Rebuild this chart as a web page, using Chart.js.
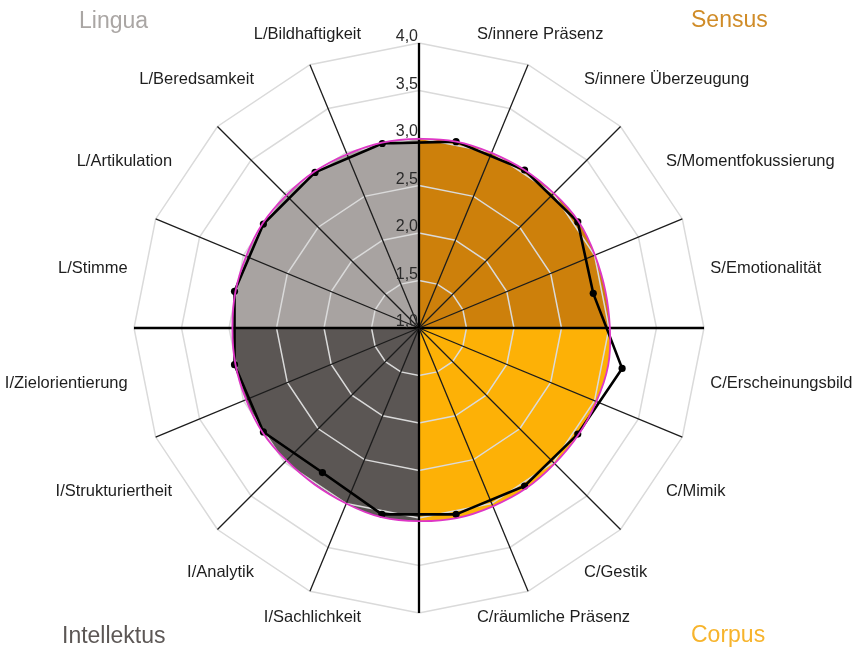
<!DOCTYPE html>
<html>
<head>
<meta charset="utf-8">
<script src="https://cdn.jsdelivr.net/npm/chart.js@4/dist/chart.umd.min.js"></script>
<style>
  html, body { margin: 0; padding: 0; background: #ffffff; }
  #wrap { position: relative; width: 855px; height: 648px; overflow: hidden;
          font-family: "Liberation Sans", Arial, Helvetica, sans-serif; }
  #wrap canvas { position: absolute; left: 0; top: 0; }
  .grp { position: absolute; font-size: 23px; line-height: 23px; white-space: nowrap; }
</style>
</head>
<body>
<div id="wrap">
  <canvas id="cFill" width="855" height="648"></canvas>
  <canvas id="cGrid" width="855" height="648"></canvas>
  <canvas id="cLines" width="855" height="648"></canvas>
  <div class="grp" id="g0" style="left:691px;top:8px;"></div>
  <div class="grp" id="g1" style="left:691px;top:623px;"></div>
  <div class="grp" id="g2" style="left:62px;top:624px;"></div>
  <div class="grp" id="g3" style="left:79px;top:9px;"></div>
</div>
<script>
// ---------- data ----------
const categories = [
  'S/innere Präsenz', 'S/innere Überzeugung', 'S/Momentfokussierung', 'S/Emotionalität',
  'C/Erscheinungsbild', 'C/Mimik', 'C/Gestik', 'C/räumliche Präsenz',
  'I/Sachlichkeit', 'I/Analytik', 'I/Strukturiertheit', 'I/Zielorientierung',
  'L/Stimme', 'L/Artikulation', 'L/Beredsamkeit', 'L/Bildhaftigkeit'
];
// black profile (line with points)
const profileValues = [3.0, 3.0, 3.01, 2.87, 3.18, 3.01, 3.0, 3.0,
                       3.0, 2.83, 2.97, 2.98, 2.98, 2.97, 2.97, 2.98];
// magenta reference profile (smooth line, filled by quadrant)
const referenceValues = [3.0, 3.0, 3.02, 3.0, 3.03, 3.02, 3.03, 3.04,
                         3.03, 2.98, 2.98, 2.97, 2.97, 2.98, 2.98, 2.99];
const groupNames  = ['Sensus', 'Corpus', 'Intellektus', 'Lingua'];
const groupFill   = ['#cd800b', '#fdb106', '#5b5654', '#a8a3a1'];
const groupTitle  = ['#d08c28', '#f7b42c', '#5c5755', '#aaa6a4'];
const scaleMin = 1.0, scaleMax = 4.0, tickStep = 0.5;

// ---------- helpers ----------
const FONT = '"Liberation Sans", Arial, Helvetica, sans-serif';
const layoutPadding = { left: 134, right: 151, top: 43, bottom: 35 };
const dataStart = 180 / categories.length;   // data on half-steps between spokes

groupNames.forEach((n, k) => {
  const el = document.getElementById('g' + k);
  el.textContent = n;
  el.style.color = groupTitle[k];
});

function radial(startAngle, gridOn) {
  return {
    r: {
      min: scaleMin, max: scaleMax, startAngle: startAngle,
      ticks: { display: false, stepSize: tickStep },
      pointLabels: { display: false },
      grid: { display: gridOn, circular: false, color: '#dadada', lineWidth: 1.5 },
      angleLines: {
        display: gridOn,
        color: (c) => (c.index % 4 === 0 ? '#000000' : '#1c1c1c'),
        lineWidth: (c) => (c.index % 4 === 0 ? 2.3 : 1.3)
      }
    }
  };
}
const baseOpts = (startAngle, gridOn) => ({
  responsive: false, animation: false,
  layout: { padding: layoutPadding },
  plugins: { legend: { display: false }, tooltip: { enabled: false } },
  scales: radial(startAngle, gridOn)
});

function quadrantFill(context) {
  const chart = context.chart;
  const s = chart.scales && chart.scales.r;
  if (!s || !isFinite(s.xCenter)) return 'rgba(0,0,0,0)';
  const g = chart.ctx.createConicGradient(-Math.PI / 2, s.xCenter, s.yCenter);
  groupFill.forEach((c, k) => { g.addColorStop(k / 4, c); g.addColorStop((k + 1) / 4, c); });
  return g;
}

const fmt = (v) => v.toFixed(1).replace('.', ',');

const tickLabelPlugin = {
  id: 'tickLabels',
  afterDraw(chart) {
    const s = chart.scales.r, ctx = chart.ctx;
    ctx.save();
    ctx.font = '16px ' + FONT;
    ctx.fillStyle = '#2a2a2a';
    ctx.textAlign = 'right';
    ctx.textBaseline = 'alphabetic';
    s.ticks.forEach((t) => {
      const d = s.getDistanceFromCenterForValue(t.value);
      ctx.fillText(fmt(t.value), s.xCenter - 1, s.yCenter - d - 2);
    });
    ctx.restore();
  }
};

const axisLabelPlugin = {
  id: 'axisLabels',
  afterDraw(chart) {
    const s = chart.scales.r, ctx = chart.ctx;
    ctx.save();
    ctx.font = '16.5px ' + FONT;
    ctx.fillStyle = '#1e1e1e';
    ctx.textBaseline = 'middle';
    chart.data.labels.forEach((lab, i) => {
      const p = s.getPointPosition(i, s.drawingArea + 12);
      const dx = p.x - s.xCenter;
      ctx.textAlign = Math.abs(dx) < 1 ? 'center' : (dx > 0 ? 'left' : 'right');
      ctx.fillText(lab, p.x, p.y - 2);
    });
    ctx.restore();
  }
};

// ---------- layer 1: quadrant-coloured fill ----------
new Chart(document.getElementById('cFill'), {
  type: 'radar',
  data: {
    labels: categories,
    datasets: [{
      data: referenceValues,
      fill: 'start',
      backgroundColor: quadrantFill,
      borderColor: 'rgba(0,0,0,0)',
      borderWidth: 0,
      tension: 0.3,
      pointRadius: 0
    }]
  },
  options: baseOpts(dataStart, false)
});

// ---------- layer 2: grid, spokes, tick labels ----------
new Chart(document.getElementById('cGrid'), {
  type: 'radar',
  data: { labels: categories, datasets: [] },
  options: baseOpts(0, true),
  plugins: [tickLabelPlugin]
});

// ---------- layer 3: profile lines + axis labels ----------
new Chart(document.getElementById('cLines'), {
  type: 'radar',
  data: {
    labels: categories,
    datasets: [
      {
        data: referenceValues,
        fill: false,
        borderColor: '#de36c6',
        borderWidth: 1.8,
        tension: 0.3,
        pointRadius: 0
      },
      {
        data: profileValues,
        fill: false,
        borderColor: '#000000',
        borderWidth: 2.6,
        borderJoinStyle: 'round',
        tension: 0,
        pointRadius: 3.6,
        pointBorderWidth: 0,
        pointBackgroundColor: '#000000',
        pointBorderColor: '#000000'
      }
    ]
  },
  options: baseOpts(dataStart, false),
  plugins: [axisLabelPlugin]
});
</script>
</body>
</html>
